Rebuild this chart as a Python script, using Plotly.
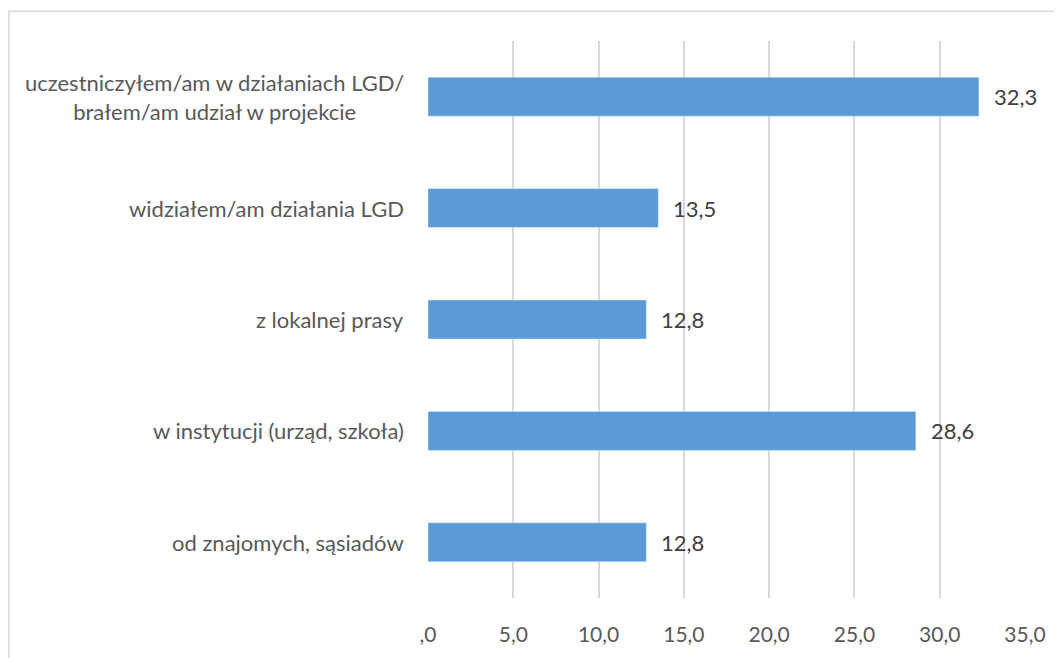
import plotly.graph_objects as go

categories = [
    "uczestniczyłem/am w działaniach LGD/<br>brałem/am udział w projekcie",
    "widziałem/am działania LGD",
    "z lokalnej prasy",
    "w instytucji (urząd, szkoła)",
    "od znajomych, sąsiadów",
]
values = [32.3, 13.5, 12.8, 28.6, 12.8]
tick_vals = [0, 5, 10, 15, 20, 25, 30, 35]
tick_text = [",0", "5,0", "10,0", "15,0", "20,0", "25,0", "30,0", "35,0"]

FONT = "Lato"
BAR = "#5B9BD5"
GRID = "#D9D9D9"

fig = go.Figure(
    go.Bar(
        x=values,
        y=categories,
        orientation="h",
        marker=dict(color=BAR),
        width=0.35,
        hoverinfo="x+y",
    )
)

# category labels, centred lines like Excel
for cat in categories:
    fig.add_annotation(
        x=0, xref="paper", y=cat, yref="y",
        text=cat, showarrow=False, xanchor="right", align="center",
        xshift=-22, font=dict(family=FONT, size=22, color="#595959"),
    )

# value labels
for cat, val in zip(categories, values):
    fig.add_annotation(
        x=val, y=cat, text=f"{val:.1f}".replace(".", ","), showarrow=False,
        xanchor="left", xshift=13, font=dict(family=FONT, size=22, color="#404040"),
    )

# chart area border (cropped on the right and bottom)
fig.add_shape(
    type="rect", xref="paper", yref="paper",
    x0=-0.702, x1=1.2, y0=-0.3, y1=1.0534,
    line=dict(color=GRID, width=1.5), fillcolor="rgba(0,0,0,0)", layer="below",
)

fig.update_xaxes(
    range=[0, 35],
    tickvals=tick_vals,
    ticktext=tick_text,
    showgrid=True,
    gridcolor=GRID,
    gridwidth=1.5,
    zeroline=False,
    showline=False,
    ticks="",
    ticklabelstandoff=22,
    tickfont=dict(family=FONT, size=21, color="#595959"),
)
fig.update_yaxes(
    autorange="reversed",
    showticklabels=False,
    showgrid=False,
    zeroline=False,
    showline=False,
)
fig.update_layout(
    width=1054,
    height=650,
    margin=dict(l=420, r=37, t=33, b=55),
    plot_bgcolor="white",
    paper_bgcolor="white",
    showlegend=False,
    font=dict(family=FONT),
)

fig.write_html("out.html")
